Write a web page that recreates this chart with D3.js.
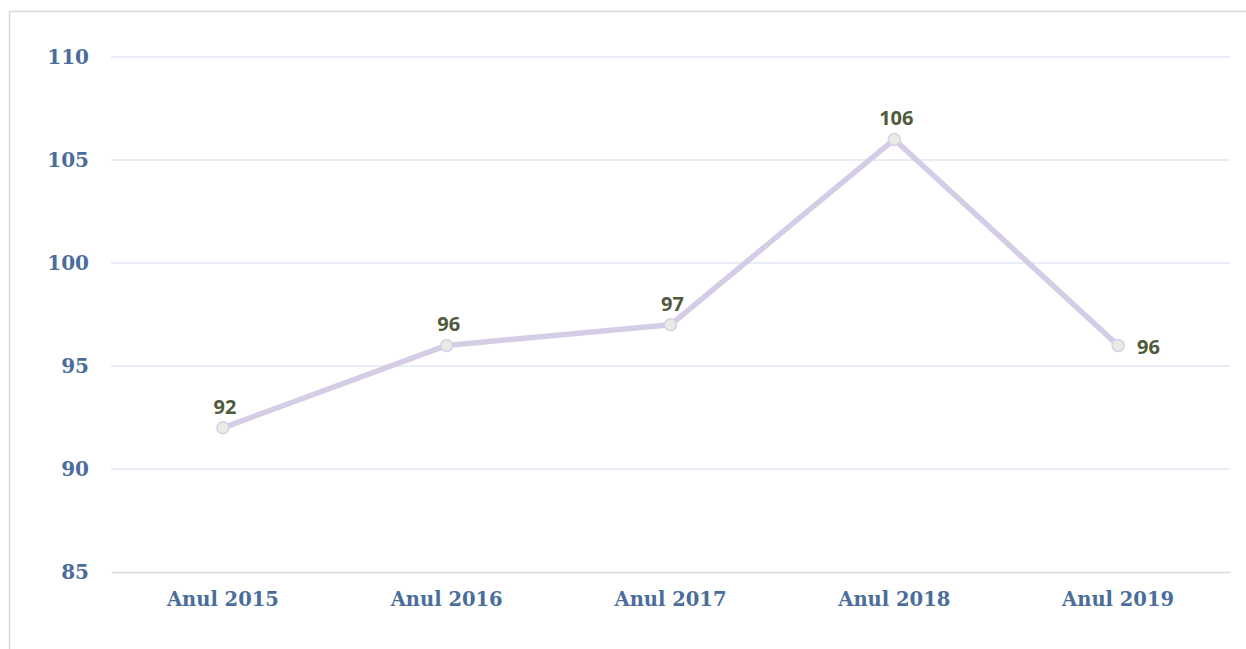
<!DOCTYPE html>
<html>
<head>
<meta charset="utf-8">
<script src="https://cdn.jsdelivr.net/npm/d3@7"></script>
<style>
  body { margin: 0; background: #fff; }
</style>
</head>
<body>
<script>
// chart data
var categories = ["Anul 2015", "Anul 2016", "Anul 2017", "Anul 2018", "Anul 2019"];
var values = [92, 96, 97, 106, 96];
var yTicks = [85, 90, 95, 100, 105, 110];

var svgWidth = 1246;
var svgHeight = 649;
// note: "top" is taken by window.top, so plot edges get their own names
var plotLeft = 111, plotRight = 1230, plotTop = 57, plotBottom = 572;

var svg = d3.select("body").append("svg")
    .attr("width", svgWidth)
    .attr("height", svgHeight);

// chart frame
svg.append("rect")
    .attr("x", 9.5)
    .attr("y", 11.5)
    .attr("width", 1260)
    .attr("height", 700)
    .attr("fill", "none")
    .attr("stroke", "#d9d9d9")
    .attr("stroke-width", 1.5);

var xScale = d3.scaleBand()
    .domain(categories)
    .range([plotLeft, plotRight]);

var yScale = d3.scaleLinear()
    .domain([85, 110])
    .range([plotBottom, plotTop]);

// gridlines
svg.append("g")
    .selectAll("line")
    .data(yTicks.filter(function(d) { return d > 85; }))
    .join("line")
    .attr("x1", plotLeft)
    .attr("x2", plotRight)
    .attr("y1", function(d) { return yScale(d); })
    .attr("y2", function(d) { return yScale(d); })
    .attr("stroke", "#e2e8f3")
    .attr("stroke-width", 1.5);

// y axis
var y_axis = d3.axisLeft(yScale)
    .tickValues(yTicks)
    .tickSize(0)
    .tickPadding(0);
var yG = svg.append("g")
    .attr("transform", "translate(89,0)")
    .call(y_axis);
yG.select(".domain").remove();
yG.selectAll("text")
    .attr("font-family", "'DejaVu Serif', serif")
    .attr("font-weight", "bold")
    .attr("font-size", 20)
    .attr("fill", "#4a6d9c");

// x axis
var x_axis = d3.axisBottom(xScale)
    .tickSize(0)
    .tickPadding(20);
var xG = svg.append("g")
    .attr("transform", "translate(0," + plotBottom + ")")
    .call(x_axis);
xG.select(".domain")
    .attr("stroke", "#d9d9d9")
    .attr("stroke-width", 1.5);
xG.selectAll("text")
    .attr("font-family", "'DejaVu Serif', serif")
    .attr("font-weight", "bold")
    .attr("font-size", 19.5)
    .attr("fill", "#4a6d9c");

var cx = function(d, i) { return xScale(categories[i]) + xScale.bandwidth() / 2; };

// line
var line = d3.line()
    .x(function(d, i) { return cx(d, i); })
    .y(function(d) { return yScale(d); });

svg.append("path")
    .datum(values)
    .attr("d", line)
    .attr("fill", "none")
    .attr("stroke", "#d5cce6")
    .attr("stroke-width", 5.5)
    .attr("stroke-linejoin", "round")
    .attr("stroke-linecap", "round");

// markers
svg.append("g")
    .selectAll("circle")
    .data(values)
    .join("circle")
    .attr("cx", cx)
    .attr("cy", function(d) { return yScale(d); })
    .attr("r", 6)
    .attr("fill", "#e9ebe5")
    .attr("stroke", "#d8cfe8")
    .attr("stroke-width", 1.5);

// data labels - last one sits to the right
svg.append("g")
    .selectAll("text")
    .data(values)
    .join("text")
    .attr("x", function(d, i) { return i == values.length - 1 ? cx(d, i) + 19 : cx(d, i) + 2; })
    .attr("y", function(d, i) { return i == values.length - 1 ? yScale(d) + 9 : yScale(d) - 14; })
    .attr("text-anchor", function(d, i) { return i == values.length - 1 ? "start" : "middle"; })
    .attr("font-family", "'Open Sans', sans-serif")
    .attr("font-weight", 700)
    .attr("font-size", 20)
    .attr("fill", "#4f5b3a")
    .text(function(d) { return d; });
</script>
</body>
</html>
